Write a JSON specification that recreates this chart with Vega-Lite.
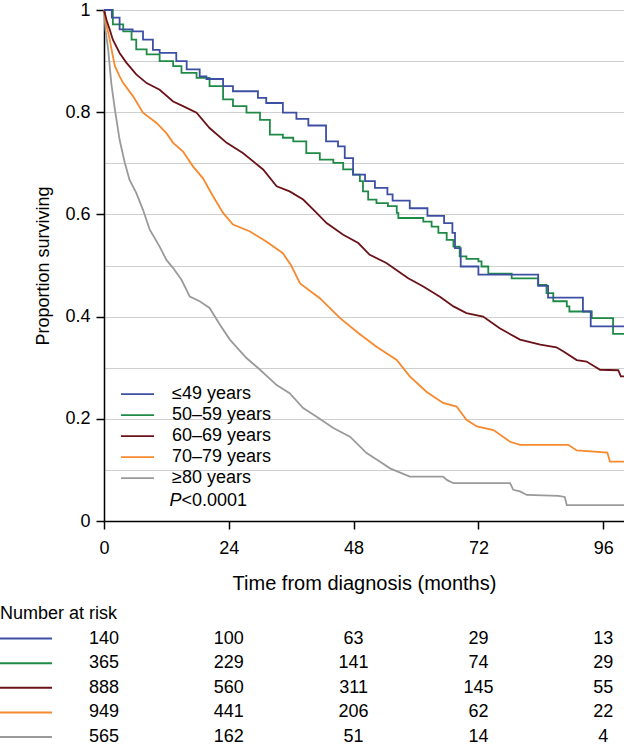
{
  "$schema": "https://vega.github.io/schema/vega-lite/v6.json",
  "width": 520,
  "height": 511,
  "autosize": {"type": "none"},
  "padding": {"left": 104, "top": 10, "right": 0, "bottom": 226},
  "background": "white",
  "config": {"font": "Liberation Sans", "view": {"stroke": null}, "text": {"color": "black"}},
  "datasets": {
    "km": [
      {"group": "≥80 years", "t": 0, "s": 1}, {"group": "≥80 years", "t": 0.3, "s": 0.96}, {"group": "≥80 years", "t": 0.8, "s": 0.923}, {"group": "≥80 years", "t": 1.4, "s": 0.857}, {"group": "≥80 years", "t": 2.1, "s": 0.805}, {"group": "≥80 years", "t": 3.0, "s": 0.746}, {"group": "≥80 years", "t": 4.0, "s": 0.701}, {"group": "≥80 years", "t": 4.9, "s": 0.668}, {"group": "≥80 years", "t": 6.2, "s": 0.642}, {"group": "≥80 years", "t": 7.5, "s": 0.609}, {"group": "≥80 years", "t": 8.8, "s": 0.57}, {"group": "≥80 years", "t": 10.7, "s": 0.537}, {"group": "≥80 years", "t": 12.0, "s": 0.511}, {"group": "≥80 years", "t": 13.3, "s": 0.495}, {"group": "≥80 years", "t": 14.9, "s": 0.472}, {"group": "≥80 years", "t": 16.5, "s": 0.439}, {"group": "≥80 years", "t": 18.4, "s": 0.43}, {"group": "≥80 years", "t": 20.3, "s": 0.417}, {"group": "≥80 years", "t": 22.3, "s": 0.384}, {"group": "≥80 years", "t": 24.2, "s": 0.355}, {"group": "≥80 years", "t": 27.4, "s": 0.319}, {"group": "≥80 years", "t": 30.0, "s": 0.296}, {"group": "≥80 years", "t": 33.2, "s": 0.266}, {"group": "≥80 years", "t": 35.7, "s": 0.25}, {"group": "≥80 years", "t": 38.3, "s": 0.221}, {"group": "≥80 years", "t": 40.9, "s": 0.204}, {"group": "≥80 years", "t": 44.1, "s": 0.182}, {"group": "≥80 years", "t": 47.3, "s": 0.165}, {"group": "≥80 years", "t": 50.5, "s": 0.133}, {"group": "≥80 years", "t": 53.1, "s": 0.116}, {"group": "≥80 years", "t": 55.0, "s": 0.103}, {"group": "≥80 years", "t": 58.8, "s": 0.087}, {"group": "≥80 years", "t": 65.2, "s": 0.087}, {"group": "≥80 years", "t": 66.0, "s": 0.08}, {"group": "≥80 years", "t": 67.2, "s": 0.074}, {"group": "≥80 years", "t": 78.1, "s": 0.074}, {"group": "≥80 years", "t": 78.7, "s": 0.061}, {"group": "≥80 years", "t": 80.0, "s": 0.058}, {"group": "≥80 years", "t": 81.3, "s": 0.051}, {"group": "≥80 years", "t": 87.4, "s": 0.049}, {"group": "≥80 years", "t": 88.6, "s": 0.047}, {"group": "≥80 years", "t": 89.0, "s": 0.031}, {"group": "≥80 years", "t": 100, "s": 0.031},
      {"group": "70–79 years", "t": 0, "s": 1}, {"group": "70–79 years", "t": 0.5, "s": 0.97}, {"group": "70–79 years", "t": 1.1, "s": 0.942}, {"group": "70–79 years", "t": 1.6, "s": 0.915}, {"group": "70–79 years", "t": 2.1, "s": 0.89}, {"group": "70–79 years", "t": 3.0, "s": 0.87}, {"group": "70–79 years", "t": 3.7, "s": 0.857}, {"group": "70–79 years", "t": 5.6, "s": 0.831}, {"group": "70–79 years", "t": 7.5, "s": 0.799}, {"group": "70–79 years", "t": 10.1, "s": 0.779}, {"group": "70–79 years", "t": 12.0, "s": 0.759}, {"group": "70–79 years", "t": 13.3, "s": 0.74}, {"group": "70–79 years", "t": 15.2, "s": 0.723}, {"group": "70–79 years", "t": 17.1, "s": 0.694}, {"group": "70–79 years", "t": 19.0, "s": 0.671}, {"group": "70–79 years", "t": 21.0, "s": 0.635}, {"group": "70–79 years", "t": 22.9, "s": 0.603}, {"group": "70–79 years", "t": 24.8, "s": 0.58}, {"group": "70–79 years", "t": 28.0, "s": 0.567}, {"group": "70–79 years", "t": 31.2, "s": 0.547}, {"group": "70–79 years", "t": 34.4, "s": 0.524}, {"group": "70–79 years", "t": 36.0, "s": 0.5}, {"group": "70–79 years", "t": 37.7, "s": 0.465}, {"group": "70–79 years", "t": 41.5, "s": 0.436}, {"group": "70–79 years", "t": 45.4, "s": 0.397}, {"group": "70–79 years", "t": 48.9, "s": 0.368}, {"group": "70–79 years", "t": 52.4, "s": 0.341}, {"group": "70–79 years", "t": 56.3, "s": 0.315}, {"group": "70–79 years", "t": 58.8, "s": 0.283}, {"group": "70–79 years", "t": 62.0, "s": 0.253}, {"group": "70–79 years", "t": 65.2, "s": 0.231}, {"group": "70–79 years", "t": 67.8, "s": 0.224}, {"group": "70–79 years", "t": 69.7, "s": 0.198}, {"group": "70–79 years", "t": 71.7, "s": 0.185}, {"group": "70–79 years", "t": 74.9, "s": 0.178}, {"group": "70–79 years", "t": 78.1, "s": 0.155}, {"group": "70–79 years", "t": 80.0, "s": 0.149}, {"group": "70–79 years", "t": 89.3, "s": 0.149}, {"group": "70–79 years", "t": 90.9, "s": 0.138}, {"group": "70–79 years", "t": 96.8, "s": 0.134}, {"group": "70–79 years", "t": 97.3, "s": 0.116}, {"group": "70–79 years", "t": 100, "s": 0.116},
      {"group": "60–69 years", "t": 0, "s": 1}, {"group": "60–69 years", "t": 0.5, "s": 0.98}, {"group": "60–69 years", "t": 1.1, "s": 0.962}, {"group": "60–69 years", "t": 1.7, "s": 0.942}, {"group": "60–69 years", "t": 3.0, "s": 0.916}, {"group": "60–69 years", "t": 4.3, "s": 0.897}, {"group": "60–69 years", "t": 6.2, "s": 0.874}, {"group": "60–69 years", "t": 8.2, "s": 0.857}, {"group": "60–69 years", "t": 10.7, "s": 0.844}, {"group": "60–69 years", "t": 13.3, "s": 0.821}, {"group": "60–69 years", "t": 15.2, "s": 0.812}, {"group": "60–69 years", "t": 17.8, "s": 0.799}, {"group": "60–69 years", "t": 20.3, "s": 0.769}, {"group": "60–69 years", "t": 23.6, "s": 0.74}, {"group": "60–69 years", "t": 26.7, "s": 0.72}, {"group": "60–69 years", "t": 30.6, "s": 0.688}, {"group": "60–69 years", "t": 33.2, "s": 0.655}, {"group": "60–69 years", "t": 35.7, "s": 0.645}, {"group": "60–69 years", "t": 38.3, "s": 0.629}, {"group": "60–69 years", "t": 40.5, "s": 0.607}, {"group": "60–69 years", "t": 42.8, "s": 0.583}, {"group": "60–69 years", "t": 46.0, "s": 0.56}, {"group": "60–69 years", "t": 48.9, "s": 0.544}, {"group": "60–69 years", "t": 51.1, "s": 0.521}, {"group": "60–69 years", "t": 54.3, "s": 0.505}, {"group": "60–69 years", "t": 58.5, "s": 0.475}, {"group": "60–69 years", "t": 61.4, "s": 0.459}, {"group": "60–69 years", "t": 64.6, "s": 0.439}, {"group": "60–69 years", "t": 67.2, "s": 0.42}, {"group": "60–69 years", "t": 69.7, "s": 0.407}, {"group": "60–69 years", "t": 72.9, "s": 0.4}, {"group": "60–69 years", "t": 76.1, "s": 0.377}, {"group": "60–69 years", "t": 80.0, "s": 0.355}, {"group": "60–69 years", "t": 83.9, "s": 0.345}, {"group": "60–69 years", "t": 87.0, "s": 0.34}, {"group": "60–69 years", "t": 88.3, "s": 0.332}, {"group": "60–69 years", "t": 90.9, "s": 0.315}, {"group": "60–69 years", "t": 92.8, "s": 0.312}, {"group": "60–69 years", "t": 95.4, "s": 0.296}, {"group": "60–69 years", "t": 98.9, "s": 0.295}, {"group": "60–69 years", "t": 99.4, "s": 0.283}, {"group": "60–69 years", "t": 100, "s": 0.283},
      {"group": "50–59 years", "t": 0, "s": 1}, {"group": "50–59 years", "t": 1.7, "s": 0.972}, {"group": "50–59 years", "t": 3.7, "s": 0.958}, {"group": "50–59 years", "t": 5.3, "s": 0.942}, {"group": "50–59 years", "t": 6.2, "s": 0.923}, {"group": "50–59 years", "t": 8.2, "s": 0.913}, {"group": "50–59 years", "t": 10.7, "s": 0.9}, {"group": "50–59 years", "t": 13.3, "s": 0.89}, {"group": "50–59 years", "t": 14.9, "s": 0.877}, {"group": "50–59 years", "t": 17.8, "s": 0.867}, {"group": "50–59 years", "t": 20.3, "s": 0.851}, {"group": "50–59 years", "t": 22.9, "s": 0.825}, {"group": "50–59 years", "t": 24.8, "s": 0.812}, {"group": "50–59 years", "t": 27.4, "s": 0.799}, {"group": "50–59 years", "t": 30.0, "s": 0.785}, {"group": "50–59 years", "t": 31.9, "s": 0.756}, {"group": "50–59 years", "t": 34.4, "s": 0.75}, {"group": "50–59 years", "t": 36.4, "s": 0.743}, {"group": "50–59 years", "t": 38.9, "s": 0.72}, {"group": "50–59 years", "t": 41.5, "s": 0.707}, {"group": "50–59 years", "t": 44.1, "s": 0.701}, {"group": "50–59 years", "t": 46.0, "s": 0.688}, {"group": "50–59 years", "t": 47.9, "s": 0.678}, {"group": "50–59 years", "t": 49.2, "s": 0.665}, {"group": "50–59 years", "t": 49.8, "s": 0.645}, {"group": "50–59 years", "t": 50.8, "s": 0.629}, {"group": "50–59 years", "t": 52.4, "s": 0.622}, {"group": "50–59 years", "t": 54.6, "s": 0.616}, {"group": "50–59 years", "t": 56.3, "s": 0.603}, {"group": "50–59 years", "t": 56.6, "s": 0.593}, {"group": "50–59 years", "t": 61.4, "s": 0.586}, {"group": "50–59 years", "t": 63.0, "s": 0.576}, {"group": "50–59 years", "t": 64.3, "s": 0.564}, {"group": "50–59 years", "t": 65.9, "s": 0.55}, {"group": "50–59 years", "t": 67.2, "s": 0.537}, {"group": "50–59 years", "t": 68.4, "s": 0.518}, {"group": "50–59 years", "t": 69.7, "s": 0.513}, {"group": "50–59 years", "t": 72.0, "s": 0.508}, {"group": "50–59 years", "t": 72.6, "s": 0.498}, {"group": "50–59 years", "t": 73.9, "s": 0.484}, {"group": "50–59 years", "t": 78.4, "s": 0.475}, {"group": "50–59 years", "t": 83.5, "s": 0.462}, {"group": "50–59 years", "t": 85.1, "s": 0.446}, {"group": "50–59 years", "t": 86.4, "s": 0.43}, {"group": "50–59 years", "t": 89.0, "s": 0.42}, {"group": "50–59 years", "t": 89.5, "s": 0.41}, {"group": "50–59 years", "t": 93.8, "s": 0.397}, {"group": "50–59 years", "t": 97.9, "s": 0.366}, {"group": "50–59 years", "t": 100, "s": 0.366},
      {"group": "≤49 years", "t": 0, "s": 1}, {"group": "≤49 years", "t": 1.5, "s": 0.985}, {"group": "≤49 years", "t": 3.0, "s": 0.962}, {"group": "≤49 years", "t": 5.5, "s": 0.958}, {"group": "≤49 years", "t": 7.5, "s": 0.942}, {"group": "≤49 years", "t": 9.4, "s": 0.922}, {"group": "≤49 years", "t": 10.7, "s": 0.916}, {"group": "≤49 years", "t": 13.9, "s": 0.9}, {"group": "≤49 years", "t": 15.9, "s": 0.884}, {"group": "≤49 years", "t": 18.4, "s": 0.87}, {"group": "≤49 years", "t": 19.7, "s": 0.865}, {"group": "≤49 years", "t": 22.9, "s": 0.851}, {"group": "≤49 years", "t": 24.8, "s": 0.841}, {"group": "≤49 years", "t": 29.6, "s": 0.828}, {"group": "≤49 years", "t": 31.2, "s": 0.818}, {"group": "≤49 years", "t": 34.4, "s": 0.799}, {"group": "≤49 years", "t": 37.0, "s": 0.787}, {"group": "≤49 years", "t": 39.3, "s": 0.774}, {"group": "≤49 years", "t": 42.7, "s": 0.743}, {"group": "≤49 years", "t": 45.0, "s": 0.733}, {"group": "≤49 years", "t": 46.3, "s": 0.71}, {"group": "≤49 years", "t": 47.9, "s": 0.678}, {"group": "≤49 years", "t": 50.2, "s": 0.665}, {"group": "≤49 years", "t": 52.1, "s": 0.652}, {"group": "≤49 years", "t": 54.5, "s": 0.639}, {"group": "≤49 years", "t": 55.5, "s": 0.627}, {"group": "≤49 years", "t": 58.8, "s": 0.612}, {"group": "≤49 years", "t": 62.2, "s": 0.597}, {"group": "≤49 years", "t": 65.4, "s": 0.583}, {"group": "≤49 years", "t": 67.0, "s": 0.564}, {"group": "≤49 years", "t": 67.5, "s": 0.534}, {"group": "≤49 years", "t": 68.6, "s": 0.498}, {"group": "≤49 years", "t": 72.0, "s": 0.482}, {"group": "≤49 years", "t": 83.5, "s": 0.46}, {"group": "≤49 years", "t": 85.4, "s": 0.437}, {"group": "≤49 years", "t": 92.1, "s": 0.41}, {"group": "≤49 years", "t": 93.6, "s": 0.381}, {"group": "≤49 years", "t": 100, "s": 0.381}
    ],
    "risk": [
      {"group": "≤49 years", "t": 0, "n": "140"}, {"group": "≤49 years", "t": 24, "n": "100"}, {"group": "≤49 years", "t": 48, "n": "63"}, {"group": "≤49 years", "t": 72, "n": "29"}, {"group": "≤49 years", "t": 96, "n": "13"},
      {"group": "50–59 years", "t": 0, "n": "365"}, {"group": "50–59 years", "t": 24, "n": "229"}, {"group": "50–59 years", "t": 48, "n": "141"}, {"group": "50–59 years", "t": 72, "n": "74"}, {"group": "50–59 years", "t": 96, "n": "29"},
      {"group": "60–69 years", "t": 0, "n": "888"}, {"group": "60–69 years", "t": 24, "n": "560"}, {"group": "60–69 years", "t": 48, "n": "311"}, {"group": "60–69 years", "t": 72, "n": "145"}, {"group": "60–69 years", "t": 96, "n": "55"},
      {"group": "70–79 years", "t": 0, "n": "949"}, {"group": "70–79 years", "t": 24, "n": "441"}, {"group": "70–79 years", "t": 48, "n": "206"}, {"group": "70–79 years", "t": 72, "n": "62"}, {"group": "70–79 years", "t": 96, "n": "22"},
      {"group": "≥80 years", "t": 0, "n": "565"}, {"group": "≥80 years", "t": 24, "n": "162"}, {"group": "≥80 years", "t": 48, "n": "51"}, {"group": "≥80 years", "t": 72, "n": "14"}, {"group": "≥80 years", "t": 96, "n": "4"}
    ]
  },
  "layer": [
    {
      "data": {"name": "km"},
      "layer": [
        {
          "transform": [{"filter": {"field": "group", "oneOf": ["≥80 years", "70–79 years", "60–69 years"]}}],
          "mark": {"type": "line", "interpolate": "linear", "strokeWidth": 1.8},
          "encoding": {
            "x": {
              "field": "t", "type": "quantitative", "title": "Time from diagnosis (months)",
              "scale": {"domain": [0, 100], "nice": false},
              "axis": {
                "values": [0, 24, 48, 72, 96], "grid": false,
                "domainColor": "black", "domainWidth": 1.5,
                "tickColor": "black", "tickSize": 8, "tickWidth": 1.5,
                "labelFontSize": 18, "labelColor": "black", "labelPadding": 10, "labelFlush": false,
                "titleFontSize": 20, "titleFontWeight": "normal", "titleColor": "black", "titlePadding": 16
              }
            },
            "y": {
              "field": "s", "type": "quantitative", "title": "Proportion surviving",
              "scale": {"domain": [0, 1], "nice": false},
              "axis": {
                "values": [0, 0.1, 0.2, 0.3, 0.4, 0.5, 0.6, 0.7, 0.8, 0.9, 1],
                "grid": true, "gridColor": "#cfcfcf", "gridWidth": 1,
                "domainColor": "black", "domainWidth": 1.5,
                "tickColor": "black", "tickSize": 8, "tickWidth": 1.5,
                "tickOpacity": {"condition": {"test": "round(datum.value*10) % 2 === 0", "value": 1}, "value": 0},
                "labelExpr": "round(datum.value*10) % 2 === 0 ? format(datum.value, '.1~f') : ''",
                "labelFontSize": 18, "labelColor": "black", "labelPadding": 6,
                "titleFontSize": 18, "titleFontWeight": "normal", "titleColor": "black", "titlePadding": 12
              }
            },
            "color": {
              "field": "group", "type": "nominal",
              "scale": {"domain": ["≤49 years", "50–59 years", "60–69 years", "70–79 years", "≥80 years"], "range": ["#3c4fa3", "#1f8a46", "#6b1218", "#f7892e", "#9a9a9a"]},
              "legend": {
                "orient": "none", "legendX": 16, "legendY": 374, "title": null,
                "symbolType": "stroke", "symbolSize": 1089, "symbolStrokeWidth": 1.8,
                "labelFontSize": 18, "labelColor": "black", "labelOffset": 17, "labelLimit": 300,
                "clipHeight": 20.1, "rowPadding": 0, "padding": 0
              }
            }
          }
        },
        {
          "transform": [{"filter": {"field": "group", "oneOf": ["50–59 years", "≤49 years"]}}],
          "mark": {"type": "line", "interpolate": "step-after", "strokeWidth": 1.8},
          "encoding": {
            "x": {"field": "t", "type": "quantitative", "title": "Time from diagnosis (months)", "scale": {"domain": [0, 100], "nice": false}},
            "y": {"field": "s", "type": "quantitative", "title": "Proportion surviving", "scale": {"domain": [0, 1], "nice": false}},
            "color": {"field": "group", "type": "nominal", "scale": {"domain": ["≤49 years", "50–59 years", "60–69 years", "70–79 years", "≥80 years"], "range": ["#3c4fa3", "#1f8a46", "#6b1218", "#f7892e", "#9a9a9a"]}}
          }
        },
        {
          "data": {"values": [{}]},
          "mark": {"type": "text", "text": "P", "fontStyle": "italic", "align": "left", "baseline": "middle", "fontSize": 18},
          "encoding": {
            "x": {"datum": 12.6, "type": "quantitative", "scale": {"domain": [0, 100], "nice": false}},
            "y": {"datum": 0.039, "type": "quantitative", "scale": {"domain": [0, 1], "nice": false}}
          }
        },
        {
          "data": {"values": [{}]},
          "mark": {"type": "text", "text": "<0.0001", "align": "left", "baseline": "middle", "fontSize": 18, "dx": 12},
          "encoding": {
            "x": {"datum": 12.6, "type": "quantitative", "scale": {"domain": [0, 100], "nice": false}},
            "y": {"datum": 0.039, "type": "quantitative", "scale": {"domain": [0, 1], "nice": false}}
          }
        }
      ]
    },
    {
      "data": {"name": "risk"},
      "layer": [
        {
          "data": {"values": [{}]},
          "mark": {"type": "text", "text": "Number at risk", "align": "left", "baseline": "middle", "fontSize": 18},
          "encoding": {
            "x": {"datum": -20, "type": "quantitative", "scale": {"domain": [0, 100], "nice": false}},
            "y": {"datum": "Number at risk", "type": "nominal", "scale": {"type": "point", "domain": ["Number at risk", "≤49 years", "50–59 years", "60–69 years", "70–79 years", "≥80 years"], "range": [604, 727], "padding": 0}, "axis": null}
          }
        },
        {
          "transform": [{"filter": "datum.t === 0"}],
          "mark": {"type": "rule", "strokeWidth": 2},
          "encoding": {
            "x": {"datum": -20, "type": "quantitative", "scale": {"domain": [0, 100], "nice": false}},
            "x2": {"datum": -10},
            "y": {"field": "group", "type": "nominal", "scale": {"type": "point", "domain": ["Number at risk", "≤49 years", "50–59 years", "60–69 years", "70–79 years", "≥80 years"], "range": [604, 727], "padding": 0}, "axis": null},
            "color": {"field": "group", "type": "nominal", "scale": {"domain": ["≤49 years", "50–59 years", "60–69 years", "70–79 years", "≥80 years"], "range": ["#3c4fa3", "#1f8a46", "#6b1218", "#f7892e", "#9a9a9a"]}}
          }
        },
        {
          "mark": {"type": "text", "align": "center", "baseline": "middle", "fontSize": 18},
          "encoding": {
            "x": {"field": "t", "type": "quantitative", "scale": {"domain": [0, 100], "nice": false}},
            "y": {"field": "group", "type": "nominal", "scale": {"type": "point", "domain": ["Number at risk", "≤49 years", "50–59 years", "60–69 years", "70–79 years", "≥80 years"], "range": [604, 727], "padding": 0}, "axis": null},
            "text": {"field": "n"}
          }
        }
      ]
    }
  ],
  "resolve": {"scale": {"y": "independent"}}
}
